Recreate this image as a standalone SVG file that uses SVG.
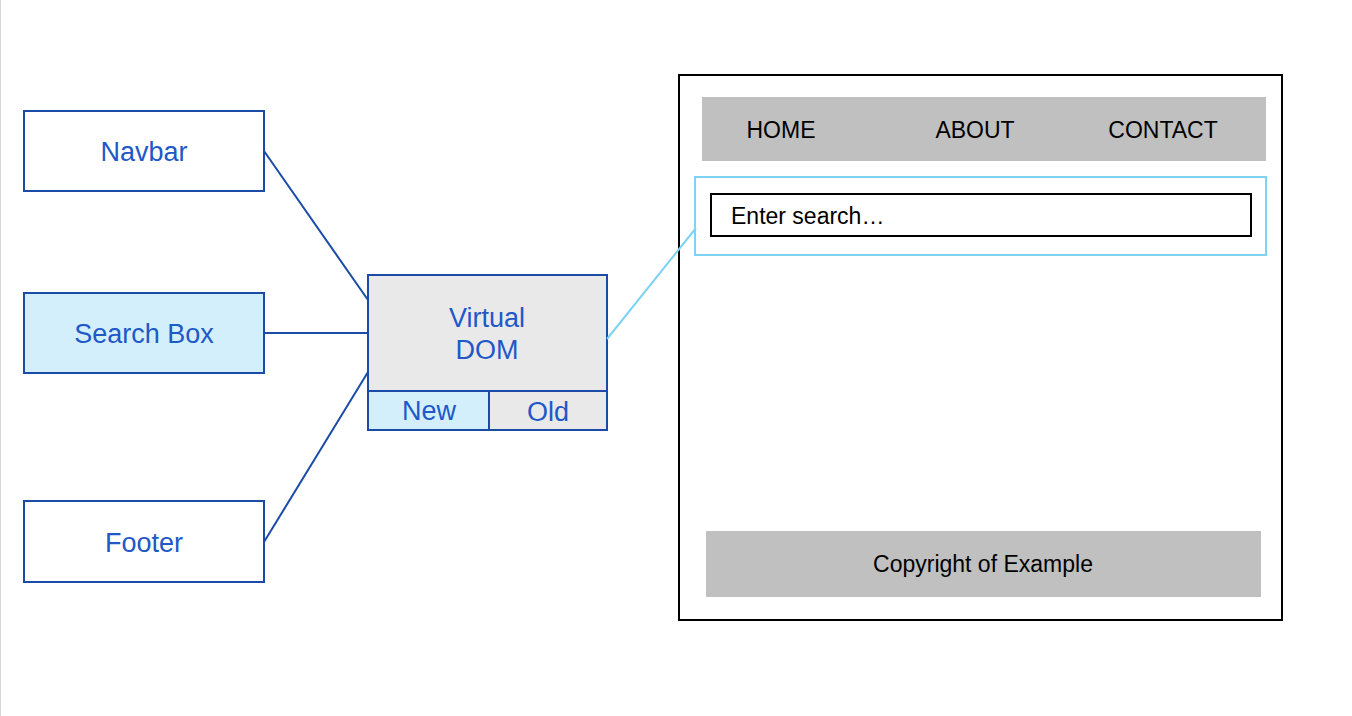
<svg xmlns="http://www.w3.org/2000/svg" width="1352" height="716" viewBox="0 0 1352 716">
<style>
.node{fill:#ffffff;stroke:#1a4ba6;stroke-width:2}
.sel{fill:#d3effb}
.vd{fill:#e9e9e9}
.lbl{font-family:"Liberation Sans",Arial,sans-serif;font-size:27px;fill:#2158c8;text-anchor:middle}
.pg{font-family:"Liberation Sans",Arial,sans-serif;font-size:23px;fill:#000000}
.conn{stroke:#1a4ba6;stroke-width:2;fill:none}
</style>
<rect x="0" y="0" width="1352" height="716" fill="#ffffff"/>
<line x1="0.5" y1="0" x2="0.5" y2="716" stroke="#d8d8d8" stroke-width="1"/>
<g id="navbar">
<rect class="node" x="24" y="111" width="240" height="80"/>
<text class="lbl" x="144" y="161">Navbar</text>
</g>
<g id="searchbox">
<rect class="node sel" x="24" y="293" width="240" height="80"/>
<text class="lbl" x="144" y="343">Search Box</text>
</g>
<g id="footer">
<rect class="node" x="24" y="501" width="240" height="81"/>
<text class="lbl" x="144" y="552">Footer</text>
</g>
<g id="virtualdom">
<rect class="node vd" x="368" y="275" width="239" height="116"/>
<text class="lbl" x="487" y="327">Virtual</text>
<text class="lbl" x="487" y="359">DOM</text>
<rect class="node sel" x="368" y="391" width="121" height="39"/>
<text class="lbl" x="429" y="420">New</text>
<rect class="node vd" x="489" y="391" width="118" height="39"/>
<text class="lbl" x="548" y="421">Old</text>
</g>
<g id="page">
<rect x="679" y="75" width="603" height="545" fill="#ffffff" stroke="#000000" stroke-width="2"/>
<rect x="702" y="97" width="564" height="64" fill="#c0c0c0"/>
<text class="pg" x="781" y="138" text-anchor="middle">HOME</text>
<text class="pg" x="975" y="138" text-anchor="middle">ABOUT</text>
<text class="pg" x="1163" y="138" text-anchor="middle">CONTACT</text>
<rect x="695" y="177" width="571" height="78" fill="none" stroke="#7dd2f6" stroke-width="2"/>
<rect x="711" y="194" width="540" height="42" fill="#ffffff" stroke="#000000" stroke-width="2"/>
<text class="pg" x="731" y="224">Enter search…</text>
<rect x="706" y="531" width="555" height="66" fill="#c0c0c0"/>
<text class="pg" x="983" y="572" text-anchor="middle">Copyright of Example</text>
</g>
<g id="connectors">
<line class="conn" x1="264" y1="151" x2="368" y2="300"/>
<line class="conn" x1="264" y1="333" x2="368" y2="333"/>
<line class="conn" x1="264" y1="542" x2="368" y2="372"/>
<line x1="607" y1="339" x2="696" y2="228" stroke="#7dd2f6" stroke-width="2"/>
</g>
</svg>
